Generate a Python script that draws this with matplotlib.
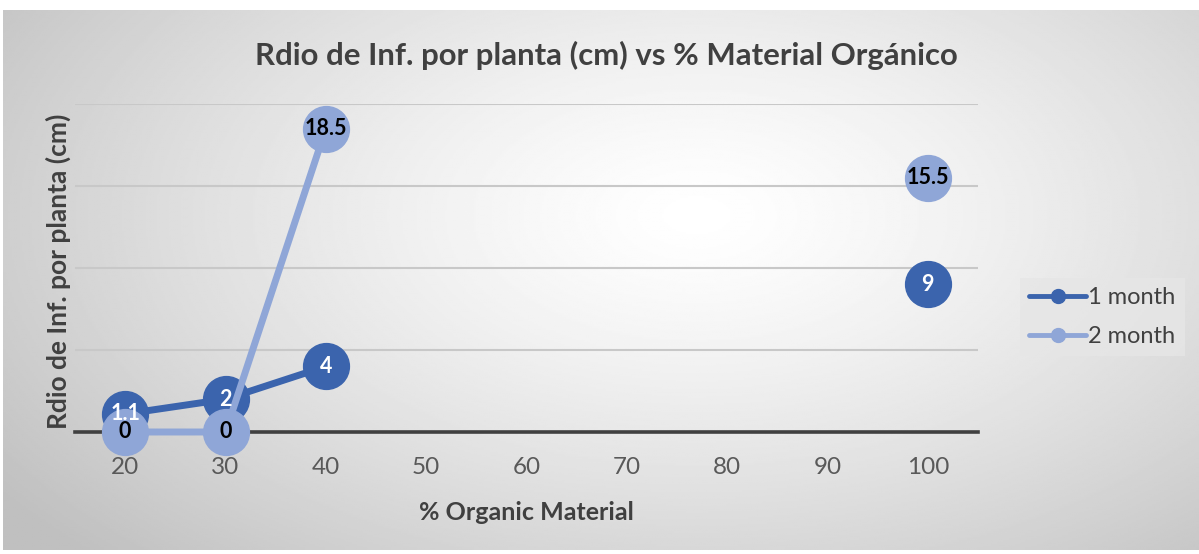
import numpy as np
import matplotlib.pyplot as plt
from matplotlib.lines import Line2D

# datos
categorias = ["20", "30", "40", "50", "60", "70", "80", "90", "100"]
mes1 = [1.1, 2, 4, np.nan, np.nan, np.nan, np.nan, np.nan, 9]
mes2 = [0, 0, 18.5, np.nan, np.nan, np.nan, np.nan, np.nan, 15.5]
series = ["1 month", "2 month"]

titulo = "Rdio de Inf. por planta (cm) vs % Material Orgánico"
xlab = "% Organic Material"
ylab = "Rdio de Inf. por planta (cm)"

c1 = "#3B64AD"
c2 = "#8FA6D7"
gris = "#404040"

plt.rcParams["font.family"] = ["Lato", "DejaVu Sans"]

W, H = 1199, 554
fig = plt.figure(figsize=(W / 100, H / 100), dpi=100)
fig.patch.set_facecolor("white")

# fondo con degradado radial
bg = fig.add_axes([3 / W, 1 - 550 / H, 1196 / W, 540 / H])
yy, xx = np.mgrid[0:1:300j, 0:1:600j]
r = np.sqrt(((xx - 0.58) / 0.72) ** 2 + ((yy - 0.62) / 0.9) ** 2)
img = 1.0 - 0.25 * np.clip(r, 0, 1) ** 1.3
bg.imshow(img, cmap="gray", vmin=0, vmax=1, aspect="auto", origin="lower",
          extent=[0, 1, 0, 1])
bg.axis("off")

ax = fig.add_axes([75 / W, 1 - 432 / H, 903 / W, 328 / H])
ax.patch.set_alpha(0)
x = np.arange(len(categorias))

ax.set_xlim(-0.5, len(categorias) - 0.5)
ax.set_ylim(0, 20)
ax.set_yticks([5, 10, 15, 20])
ax.yaxis.grid(True, color="#c8c8c8", lw=1.5, zorder=0)
ax.tick_params(axis="y", length=0, labelleft=False)
ax.tick_params(axis="x", length=0, labelsize=17.5, colors="#595959", pad=18)
ax.set_xticks(x, categorias)
for s in ["top", "right", "left"]:
    ax.spines[s].set_visible(False)
ax.spines["bottom"].set_color(gris)
ax.spines["bottom"].set_linewidth(2.6)
ax.spines["bottom"].set_zorder(1)

ax.plot(x, mes1, color=c1, lw=5, marker="o", ms=33, zorder=3,
        label=series[0], solid_capstyle="round", clip_on=False)
ax.plot(x, mes2, color=c2, lw=5, marker="o", ms=33, zorder=4,
        label=series[1], solid_capstyle="round", clip_on=False)

for xi, v in zip(x, mes1):
    if not np.isnan(v):
        ax.text(xi, v, f"{v:g}", ha="center", va="center", color="white",
                fontsize=15.5, fontweight="bold", zorder=6)
for xi, v in zip(x, mes2):
    if not np.isnan(v):
        ax.text(xi, v, f"{v:g}", ha="center", va="center", color="black",
                fontsize=15.5, fontweight="bold", zorder=7)

ax.set_xlabel(xlab, fontsize=18, fontweight="bold", color=gris)
ax.xaxis.set_label_coords(0.5, -0.21)
ax.set_ylabel(ylab, fontsize=19, fontweight="bold", color=gris)
ax.yaxis.set_label_coords(-0.004, 0.49)
fig.text(606 / W, 1 - 55 / H, titulo, ha="center", va="center",
         fontsize=22.4, fontweight="bold", color=gris)

handles = [Line2D([], [], color=c1, lw=3.5, marker="o", ms=10, solid_capstyle="round"),
           Line2D([], [], color=c2, lw=3.5, marker="o", ms=10, solid_capstyle="round")]
leg = fig.legend(handles, series, loc="center left",
                 bbox_to_anchor=(1008 / W, 1 - 317 / H), frameon=True,
                 fontsize=17, handlelength=2.4, labelcolor=gris,
                 handletextpad=0.1, borderpad=0.4, labelspacing=0.75)
leg.get_frame().set_facecolor("#e6e6e6")
leg.get_frame().set_edgecolor("none")
leg.get_frame().set_alpha(0.8)
leg.get_frame().set_boxstyle("square", pad=0)

fig.savefig("out.png", dpi=100)
